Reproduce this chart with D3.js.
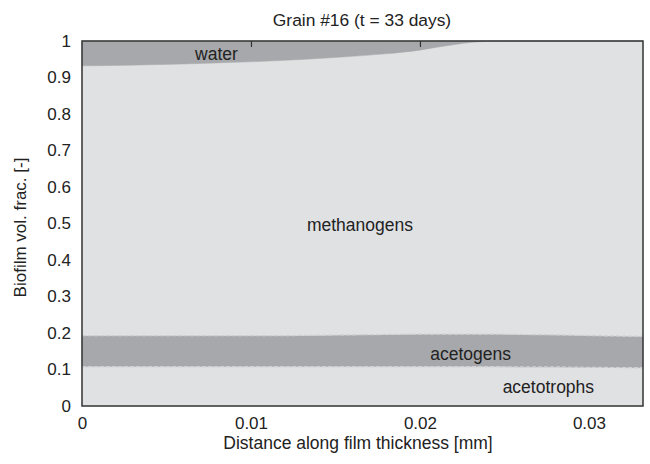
<!DOCTYPE html>
<html>
<head>
<meta charset="utf-8">
<script src="https://cdn.jsdelivr.net/npm/d3@7"></script>
<style>
  body { margin: 0; background: #fff; }
  text { font-family: "Liberation Sans", Arial, sans-serif; fill: #222; }
</style>
</head>
<body>
<svg id="chart" width="650" height="464"></svg>
<script>
// Distance along film thickness [mm]
const distance = [0, 0.002, 0.004, 0.006, 0.008, 0.010, 0.012, 0.014, 0.016, 0.018,
                  0.020, 0.021, 0.022, 0.023, 0.024, 0.026, 0.028, 0.030, 0.0332];

// volume fractions, bottom to top
const acetotrophs = [0.108, 0.108, 0.108, 0.108, 0.108, 0.108, 0.108, 0.108, 0.108, 0.108,
                     0.108, 0.108, 0.108, 0.108, 0.108, 0.107, 0.107, 0.106, 0.105];
const acetogens   = [0.085, 0.085, 0.085, 0.085, 0.085, 0.085, 0.085, 0.086, 0.087, 0.088,
                     0.089, 0.089, 0.089, 0.089, 0.089, 0.089, 0.088, 0.087, 0.086];
const methanogens = [0.739, 0.740, 0.742, 0.744, 0.747, 0.750, 0.754, 0.758, 0.763, 0.769,
                     0.778, 0.786, 0.793, 0.799, 0.802, 0.804, 0.805, 0.807, 0.809];
const water       = [0.068, 0.067, 0.065, 0.063, 0.060, 0.057, 0.053, 0.048, 0.042, 0.035,
                     0.025, 0.017, 0.010, 0.004, 0.001, 0.000, 0.000, 0.000, 0.000];

const xTicks = [0, 0.01, 0.02, 0.03];
const yTicks = [0, 0.1, 0.2, 0.3, 0.4, 0.5, 0.6, 0.7, 0.8, 0.9, 1];
const seriesNames = ['acetotrophs', 'acetogens', 'methanogens', 'water'];

const svg = d3.select('#chart');
const margin = {top: 41, right: 7, bottom: 58, left: 82};
const width = +svg.attr('width') - margin.left - margin.right;
const height = +svg.attr('height') - margin.top - margin.bottom;
const g = svg.append('g').attr('transform', `translate(${margin.left},${margin.top})`);

const x = d3.scaleLinear().domain([0, 0.0332]).range([0, width]);
const y = d3.scaleLinear().domain([0, 1]).range([height, 0]);

// table for stacking
const rows = distance.map((d, i) => ({
  distance: d,
  acetotrophs: acetotrophs[i],
  acetogens: acetogens[i],
  methanogens: methanogens[i],
  water: water[i]
}));
const stacked = d3.stack().keys(seriesNames)(rows);

const fills = {acetotrophs: '#e0e1e3', acetogens: '#a7a8ab', methanogens: '#e0e1e3', water: '#a7a8ab'};

const area = d3.area()
  .x(d => x(d.data.distance))
  .y0(d => y(d[0]))
  .y1(d => y(d[1]))
  .curve(d3.curveMonotoneX);

g.selectAll('.layer')
  .data(stacked)
  .enter().append('path')
  .attr('class', 'layer')
  .attr('fill', d => fills[d.key])
  .attr('stroke', d => fills[d.key])
  .attr('stroke-width', 0.5)
  .attr('d', area);

// dashed edges of the acetogen band
const edge = d3.line()
  .x(d => x(d.data.distance))
  .curve(d3.curveMonotoneX);
const acetoLayer = stacked.find(s => s.key === 'acetogens');
[0, 1].forEach(k => {
  g.append('path')
    .datum(acetoLayer)
    .attr('fill', 'none')
    .attr('stroke', '#cfd0d2')
    .attr('stroke-width', 1.2)
    .attr('stroke-dasharray', '4,2')
    .attr('d', edge.y(d => y(d[k])));
});

// top inner ticks
g.append('g')
  .call(d3.axisBottom(x).tickValues([0.01, 0.02]).tickSize(6).tickFormat(''))
  .call(a => a.select('.domain').remove())
  .call(a => a.selectAll('line').attr('stroke', '#333').attr('stroke-width', 1.2));

// frame
g.append('rect')
  .attr('width', width)
  .attr('height', height)
  .attr('fill', 'none')
  .attr('stroke', '#333')
  .attr('stroke-width', 1.5);

// x axis labels
g.append('g')
  .attr('transform', `translate(0,${height})`)
  .call(d3.axisBottom(x).tickValues(xTicks).tickSize(0).tickPadding(11).tickFormat(d3.format('')))
  .call(a => a.select('.domain').remove())
  .call(a => a.selectAll('text').style('font-size', '17px').attr('fill', '#222'));

// y axis labels
g.append('g')
  .call(d3.axisLeft(y).tickValues(yTicks).tickSize(0).tickPadding(11).tickFormat(d3.format('')))
  .call(a => a.select('.domain').remove())
  .call(a => a.selectAll('text').style('font-size', '17px').attr('fill', '#222'));

// layer labels (baseline positions)
const labels = [
  {text: 'water', x: 0.00796, y: 0.948},
  {text: 'methanogens', x: 0.01645, y: 0.4795},
  {text: 'acetogens', x: 0.0230, y: 0.126},
  {text: 'acetotrophs', x: 0.0276, y: 0.0356}
];
g.selectAll('.lab')
  .data(labels)
  .enter().append('text')
  .attr('class', 'lab')
  .attr('x', d => x(d.x))
  .attr('y', d => y(d.y))
  .attr('text-anchor', 'middle')
  .style('font-size', '17.5px')
  .text(d => d.text);

// title
svg.append('text')
  .attr('x', 362)
  .attr('y', 26)
  .attr('text-anchor', 'middle')
  .style('font-size', '17.4px')
  .text('Grain #16 (t = 33 days)');

// axis titles
svg.append('text')
  .attr('x', 358)
  .attr('y', 449)
  .attr('text-anchor', 'middle')
  .style('font-size', '17.5px')
  .text('Distance along film thickness [mm]');

svg.append('text')
  .attr('transform', `translate(26,227.5) rotate(-90)`)
  .attr('text-anchor', 'middle')
  .style('font-size', '17px')
  .text('Biofilm vol. frac. [-]');
</script>
</body>
</html>
